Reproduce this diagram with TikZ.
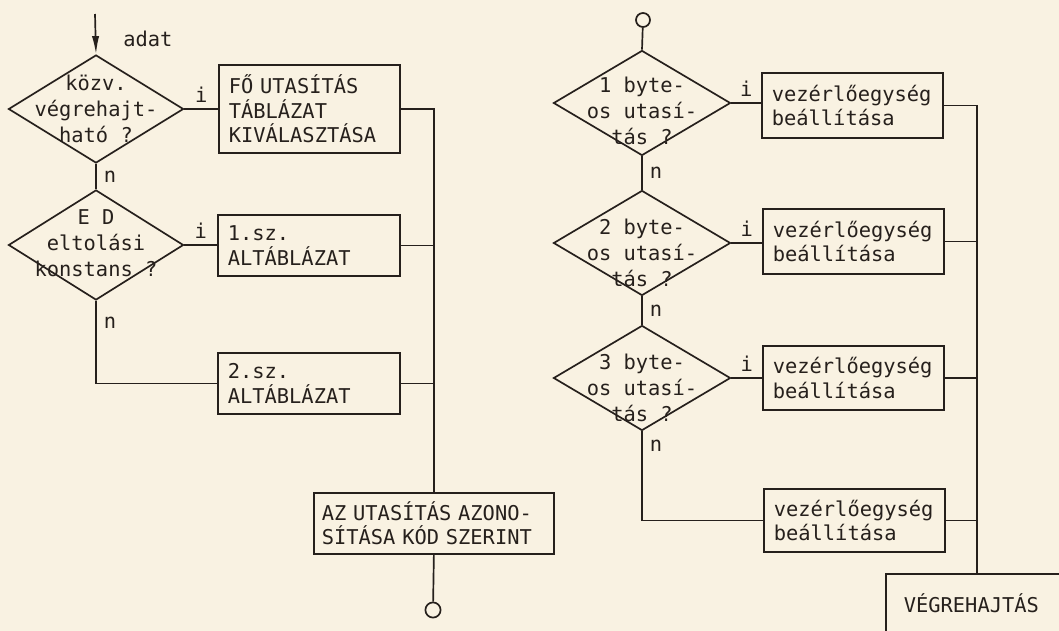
\documentclass[tikz,border=0pt]{standalone}
\usepackage{fontspec}
\setmonofont{DejaVu Sans Mono}
\usetikzlibrary{arrows.meta,positioning,shapes.geometric}
\definecolor{paper}{RGB}{249,242,226}
\definecolor{ink}{RGB}{38,32,28}

\begin{document}
\begin{tikzpicture}[x=0.025cm, y=-0.025cm, line width=1.2pt, ink]
\useasboundingbox (0,0) rectangle (1059,631);
\clip (0,0) rectangle (1059,631);
\fill[paper] (0,0) rectangle (1059,631);
\tikzstyle{every node} = [font=\ttfamily\fontsize{14.5}{17.5}\selectfont]
\tikzstyle{box} = [draw, anchor=north west, align=left, inner xsep=0.25cm, inner ysep=0pt]
\tikzstyle{decision} = [draw, diamond, inner sep=0pt]
\tikzstyle{dtext} = [align=center, inner sep=0pt, font=\ttfamily\fontsize{14.5}{18.5}\selectfont]
\tikzstyle{conn} = [draw, circle, inner sep=0pt, minimum size=0.38cm]
\tikzstyle{lbl} = [inner sep=2pt]
\node[decision, minimum width=4.375cm, minimum height=2.7cm] (d1) at (96,109) {};
\node[dtext] (d1t) at (d1.center) {közv.\\végrehajt-\\ható ?};
\node[decision, minimum width=4.375cm, minimum height=2.75cm] (d2) at (96,245) {};
\node[dtext] (d2t) at ([yshift=0.05cm]d2.center) {E D\\eltolási\\konstans ?};
\node[box, text width=4.025cm, minimum height=2.2cm] (fo) at (218,64) {FŐ UTASÍTÁS\\TÁBLÁZAT\\KIVÁLASZTÁSA};
\node[box, text width=4.05cm, minimum height=1.525cm] (alt1) at (217,214) {1.sz.\\ALTÁBLÁZAT};
\node[box, text width=4.05cm, minimum height=1.525cm] (alt2) at (217,352) {2.sz.\\ALTÁBLÁZAT};
\node[box, inner xsep=0.2cm, text width=5.6cm, minimum height=1.525cm] (azon) at (313,492) {AZ UTASÍTÁS AZONO-\\SÍTÁSA KÓD SZERINT};
\node[conn] (endL) at (433,610) {};
\coordinate (in) at (95,14);
\draw[-{Latex[length=0.45cm,width=0.18cm]}] (in) -- node[lbl, pos=0.62, right=0.6cm] (adat) {adat} (d1.north);
\draw (d1.east) -- node[lbl, above=2pt] (i1) {i} (d1.east -| fo.west);
\draw (d1.south) -- node[lbl, right=3pt] (n1) {n} (d2.north);
\draw (d2.east) -- node[lbl, above=2pt] (i2) {i} (d2.east -| alt1.west);
\draw (d2.south) |- node[lbl, pos=0.13, right=3pt] (n2) {n} (alt2.west);
\draw (fo.east) -| (azon.north);
\draw (alt1.east) -- (alt1.east -| azon.north);
\draw (alt2.east) -- (alt2.east -| azon.north);
\draw (azon.south) -- (endL);
\node[conn, minimum size=0.35cm] (startR) at (643,20) {};
\node[decision, minimum width=4.425cm, minimum height=2.625cm] (dA) at (642,103) {};
\node[dtext] (dAt) at ([yshift=-0.2cm]dA.center) {1 byte-\\os utasí-\\tás ?};
\node[decision, minimum width=4.425cm, minimum height=2.625cm] (dB) at (642,243) {};
\node[dtext] (dBt) at ([yshift=-0.25cm]dB.center) {2 byte-\\os utasí-\\tás ?};
\node[decision, minimum width=4.425cm, minimum height=2.625cm] (dC) at (642,378) {};
\node[dtext] (dCt) at ([yshift=-0.25cm]dC.center) {3 byte-\\os utasí-\\tás ?};
\node[box, text width=4.025cm, minimum height=1.625cm] (vez1) at (761,72) {vezérlőegység\\beállítása};
\node[box, text width=4.025cm, minimum height=1.625cm] (vez2) at (762,208) {vezérlőegység\\beállítása};
\node[box, text width=4.025cm, minimum height=1.6cm] (vez3) at (762,345) {vezérlőegység\\beállítása};
\node[box, text width=4.025cm, minimum height=1.575cm] (vez4) at (763,488) {vezérlőegység\\beállítása};
\node[box, inner xsep=0.45cm, inner ysep=0.5cm, text width=5cm] (vegre) at (885,573) {VÉGREHAJTÁS};
\coordinate (vbus) at (977,573);
\draw (startR) -- (dA.north);
\draw (dA.east) -- node[lbl, above=2pt] (iA) {i} (dA.east -| vez1.west);
\draw (dB.east) -- node[lbl, above=2pt] (iB) {i} (dB.east -| vez2.west);
\draw (dC.east) -- node[lbl, above=2pt] (iC) {i} (dC.east -| vez3.west);
\draw (dA.south) -- node[lbl, right=3pt] (nA) {n} (dB.north);
\draw (dB.south) -- node[lbl, right=3pt] (nB) {n} (dC.north);
\draw (dC.south) |- node[lbl, pos=0.08, right=3pt] (nC) {n} (vez4.west);
\draw (vez1.east) -| (vbus);
\draw (vez2.east) -- (vez2.east -| vbus);
\draw (vez3.east) -- (vez3.east -| vbus);
\draw (vez4.east) -- (vez4.east -| vbus);
\end{tikzpicture}
\end{document}
